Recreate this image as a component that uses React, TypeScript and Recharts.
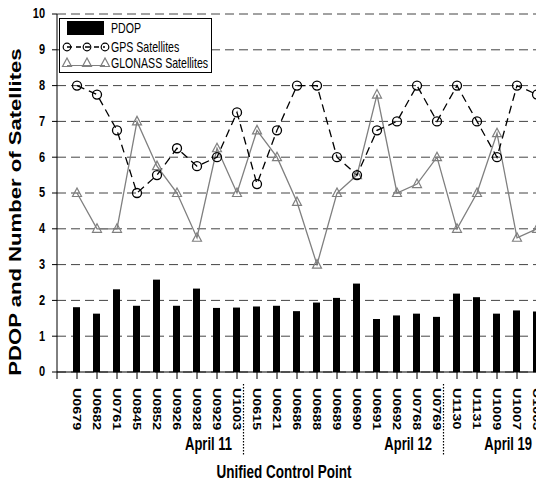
import React from "react";
import { Bar, CartesianGrid, ComposedChart, Legend, Line, XAxis, YAxis } from "recharts";

// control points in survey order, grouped by survey day
const sites = [
  "U0679", "U0682", "U0761", "U0845", "U0852", "U0926", "U0928", "U0929", "U1003",
  "U0615", "U0621", "U0686", "U0688", "U0689", "U0690", "U0691", "U0692", "U0768", "U0769",
  "U1130", "U1131", "U1009", "U1007", "U1003",
];
const days = ["April 11", "April 12", "April 19"];
const daySizes = [9, 10, 5];

const pdop = [
  1.81, 1.63, 2.31, 1.85, 2.58, 1.85, 2.33, 1.79, 1.8,
  1.83, 1.85, 1.7, 1.94, 2.07, 2.47, 1.48, 1.58, 1.63, 1.54,
  2.19, 2.09, 1.63, 1.72, 1.69,
];
const gps = [
  8, 7.75, 6.75, 5, 5.5, 6.25, 5.75, 6, 7.25,
  5.25, 6.75, 8, 8, 6, 5.5, 6.75, 7, 8, 7,
  8, 7, 6, 8, 7.75,
];
const glonass = [
  5, 4, 4, 7, 5.75, 5, 3.75, 6.25, 5,
  6.75, 6, 4.75, 3, 5, 5.5, 7.75, 5, 5.25, 6,
  4, 5, 6.67, 3.75, 4,
];
const yTicks = [0, 1, 2, 3, 4, 5, 6, 7, 8, 9, 10];
const xTicks = [0, ...sites.map((_, i) => i + 1)];

const data = sites.map((site, i) => ({
  pos: i + 1,
  site,
  pdop: pdop[i],
  gps: gps[i],
  glonass: glonass[i],
}));

// last position of each day group -> day label
const dayEnds: Record<number, string> = {};
let acc = 0;
daySizes.forEach((n, k) => {
  acc += n;
  dayEnds[acc] = days[k];
});

const FONT = "'Liberation Sans', Arial, sans-serif";
const GLONASS_GREY = "#7f7f7f";

const STRETCH = 1.35;

const Txt = ({ x, y, rotate = 0, sx = 1, sy = 1, children, ...rest }: any) => (
  <text
    transform={`translate(${x},${y}) rotate(${rotate}) scale(${sx},${sy})`}
    x={0}
    y={0}
    fontFamily={FONT}
    fill="#000"
    {...rest}
  >
    {children}
  </text>
);

const SiteTick = ({ x, y, payload }: any) => {
  const pos = payload.value;
  if (!pos) return <g />;
  const day = dayEnds[pos];
  return (
    <g>
      <Txt x={x} y={y} rotate={90} sx={1.3} fontSize={11} fontWeight="bold" dominantBaseline="central">
        {sites[pos - 1]}
      </Txt>
      {day && (
        <Txt x={x - 5} y={y + 56} sy={STRETCH} fontSize={13} fontWeight="bold" textAnchor="end" dominantBaseline="central">
          {day}
        </Txt>
      )}
      {day && pos < sites.length && (
        <line x1={x + 6.5} x2={x + 6.5} y1={y - 4} y2={y + 68} stroke="#000" strokeWidth={1.2} strokeDasharray="1.5 1.5" />
      )}
    </g>
  );
};

const ValueTick = ({ x, y, payload }: any) => (
  <Txt x={x} y={y} sy={1.25} fontSize={11} fontWeight="bold" textAnchor="end" dominantBaseline="central">
    {payload.value}
  </Txt>
);

const CircleDot = ({ cx, cy, index }: any) => (
  <circle key={`g${index}`} cx={cx} cy={cy} r={4.5} fill="none" stroke="#000" strokeWidth={1.3} />
);

const Triangle = ({ cx, cy, stroke }: any) => (
  <polygon
    points={`${cx},${cy - 5} ${cx - 4.5},${cy + 3.5} ${cx + 4.5},${cy + 3.5}`}
    fill="none"
    stroke={stroke}
    strokeWidth={1.2}
  />
);

const TriangleDot = ({ cx, cy, index }: any) => (
  <Triangle key={`t${index}`} cx={cx} cy={cy} stroke={GLONASS_GREY} />
);

const legendOrder = ["pdop", "gps", "glonass"];

const LegendBox = ({ payload }: any) => {
  const items = [...(payload || [])].sort(
    (a: any, b: any) =>
      legendOrder.indexOf(a.dataKey ?? a.payload?.dataKey) - legendOrder.indexOf(b.dataKey ?? b.payload?.dataKey)
  );
  return (
    <svg width={153} height={55} style={{ display: "block" }}>
      <rect x={0.5} y={0.5} width={152} height={54} fill="#fff" stroke="#000" strokeWidth={1} />
      {items.map((item: any, i: number) => {
        const key = item.dataKey ?? item.payload?.dataKey;
        const cy = [10, 29, 45][i];
        let marker = null;
        if (key === "pdop") {
          marker = <rect x={8} y={3} width={37} height={14} fill="#000" />;
        } else if (key === "gps") {
          marker = (
            <g>
              <line x1={8} x2={46} y1={cy} y2={cy} stroke="#000" strokeWidth={1.3} strokeDasharray="5 4" />
              {[8, 28, 46].map((mx) => (
                <circle key={mx} cx={mx} cy={cy} r={3.8} fill="none" stroke="#000" strokeWidth={1.2} />
              ))}
            </g>
          );
        } else {
          marker = (
            <g>
              <line x1={8} x2={46} y1={cy + 2.5} y2={cy + 2.5} stroke={GLONASS_GREY} strokeWidth={1.2} />
              {[8, 28, 46].map((mx) => (
                <Triangle key={mx} cx={mx} cy={cy} stroke={GLONASS_GREY} />
              ))}
            </g>
          );
        }
        return (
          <g key={key}>
            {marker}
            <Txt x={52} y={cy} sy={STRETCH} fontSize={10.6} dominantBaseline="central">
              {item.value}
            </Txt>
          </g>
        );
      })}
    </svg>
  );
};

const YTitle = () => (
  <Txt x={15} y={212} rotate={-90} sx={1.3} fontSize={17} fontWeight="bold" textAnchor="middle" dominantBaseline="central">
    PDOP and Number of Satellites
  </Txt>
);

const XTitle = () => (
  <Txt x={284} y={471} sy={STRETCH} fontSize={13.5} fontWeight="bold" textAnchor="middle" dominantBaseline="central">
    Unified Control Point
  </Txt>
);

export default function App() {
  return (
    <div style={{ position: "absolute", left: 0, top: 0, width: 536, height: 481, overflow: "hidden", background: "#fff" }}>
      <ComposedChart width={560} height={481} data={data} margin={{ top: 14, right: 13, left: 0, bottom: 0 }}>
        <CartesianGrid vertical={false} stroke="#444" strokeDasharray="9 5" />
        <XAxis
          type="number"
          dataKey="pos"
          domain={[0, 24.5]}
          ticks={xTicks}
          interval={0}
          height={109}
          tickSize={7}
          tickMargin={9}
          axisLine={{ stroke: "#000" }}
          tickLine={{ stroke: "#000" }}
          tick={<SiteTick />}
          label={<XTitle />}
        />
        <YAxis
          type="number"
          domain={[0, 10]}
          ticks={yTicks}
          width={57}
          tickSize={5}
          tickMargin={7}
          axisLine={{ stroke: "#000" }}
          tickLine={{ stroke: "#000" }}
          tick={<ValueTick />}
          label={<YTitle />}
        />
        <Legend
          layout="vertical"
          align="center"
          verticalAlign="middle"
          content={<LegendBox />}
          wrapperStyle={{ left: 59, top: 18, width: 153, height: 55 }}
        />
        <Bar dataKey="pdop" name="PDOP" fill="#000" barSize={7} isAnimationActive={false} />
        <Line
          dataKey="glonass"
          name="GLONASS Satellites"
          type="linear"
          stroke={GLONASS_GREY}
          strokeWidth={1.3}
          dot={<TriangleDot />}
          activeDot={false}
          isAnimationActive={false}
        />
        <Line
          dataKey="gps"
          name="GPS Satellites"
          type="linear"
          stroke="#000"
          strokeWidth={1.3}
          strokeDasharray="8 5"
          dot={<CircleDot />}
          activeDot={false}
          isAnimationActive={false}
        />
      </ComposedChart>
    </div>
  );
}
